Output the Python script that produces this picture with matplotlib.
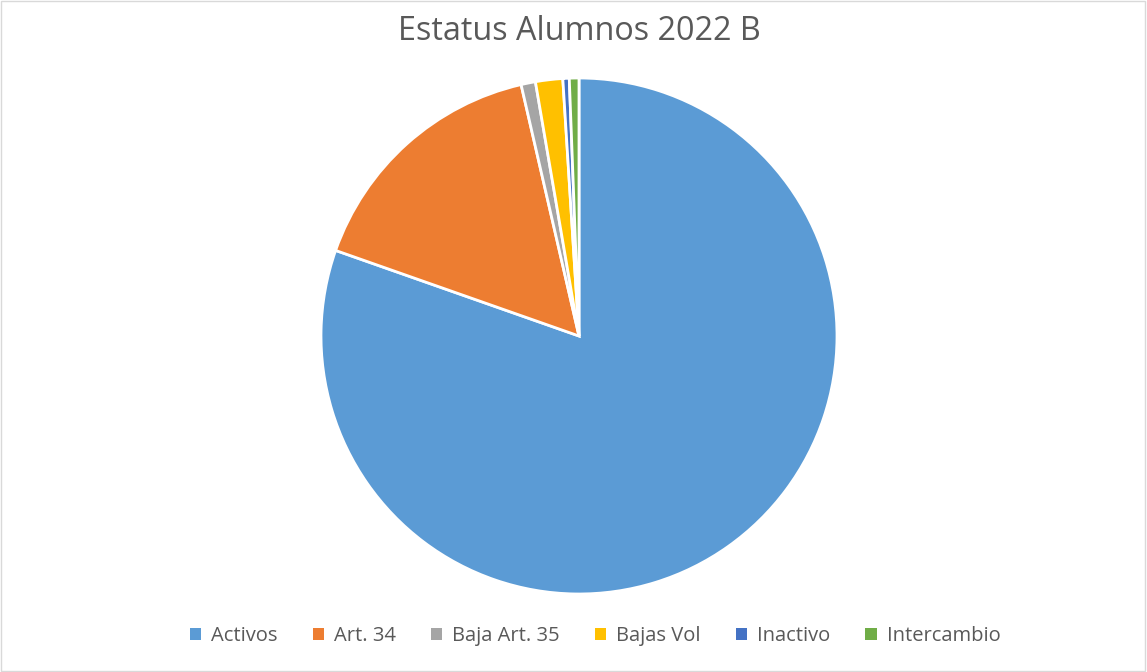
import matplotlib.pyplot as plt
from matplotlib.patches import Rectangle, Patch

# student status counts, 2022 B
labels = ["Activos", "Art. 34", "Baja Art. 35", "Bajas Vol", "Inactivo", "Intercambio"]
counts = [803, 160, 9, 17, 4, 6]
colors = ["#5B9BD5", "#ED7D31", "#A5A5A5", "#FFC000", "#4472C4", "#70AD47"]

W, H = 1147, 672
fig = plt.figure(figsize=(W / 100, H / 100), dpi=100)
fig.patch.set_facecolor("white")

# square axes holding the pie
cx, cy, r = 579, 336, 258
ax = fig.add_axes([(cx - r) / W, (H - cy - r) / H, 2 * r / W, 2 * r / H])
wedges, _ = ax.pie(counts, colors=colors, startangle=90, counterclock=False,
                   wedgeprops=dict(edgecolor="white", linewidth=2))
ax.set_xlim(-1, 1)
ax.set_ylim(-1, 1)
ax.axis("off")

fig.text(cx / W, 1 - 32 / H, "Estatus Alumnos 2022 B", ha="center", va="center",
         fontsize=23.3, color="#595959", family="Open Sans")

# legend squares without the white wedge edge
handles = [Patch(facecolor=c, edgecolor="none") for c in colors]
fig.legend(handles, labels, loc="center", bbox_to_anchor=(595 / W, 1 - 636 / H), ncol=6,
           frameon=False, handlelength=0.55, handleheight=0.55, handletextpad=0.5,
           columnspacing=1.75, prop={"family": "Open Sans", "size": 14.5},
           labelcolor="#595959")

# thin chart-area border
fig.patches.append(Rectangle((0.001, 0.001), 0.997, 0.997, transform=fig.transFigure,
                             fill=False, edgecolor="#D9D9D9", linewidth=1))

fig.savefig("out.png", dpi=100)
